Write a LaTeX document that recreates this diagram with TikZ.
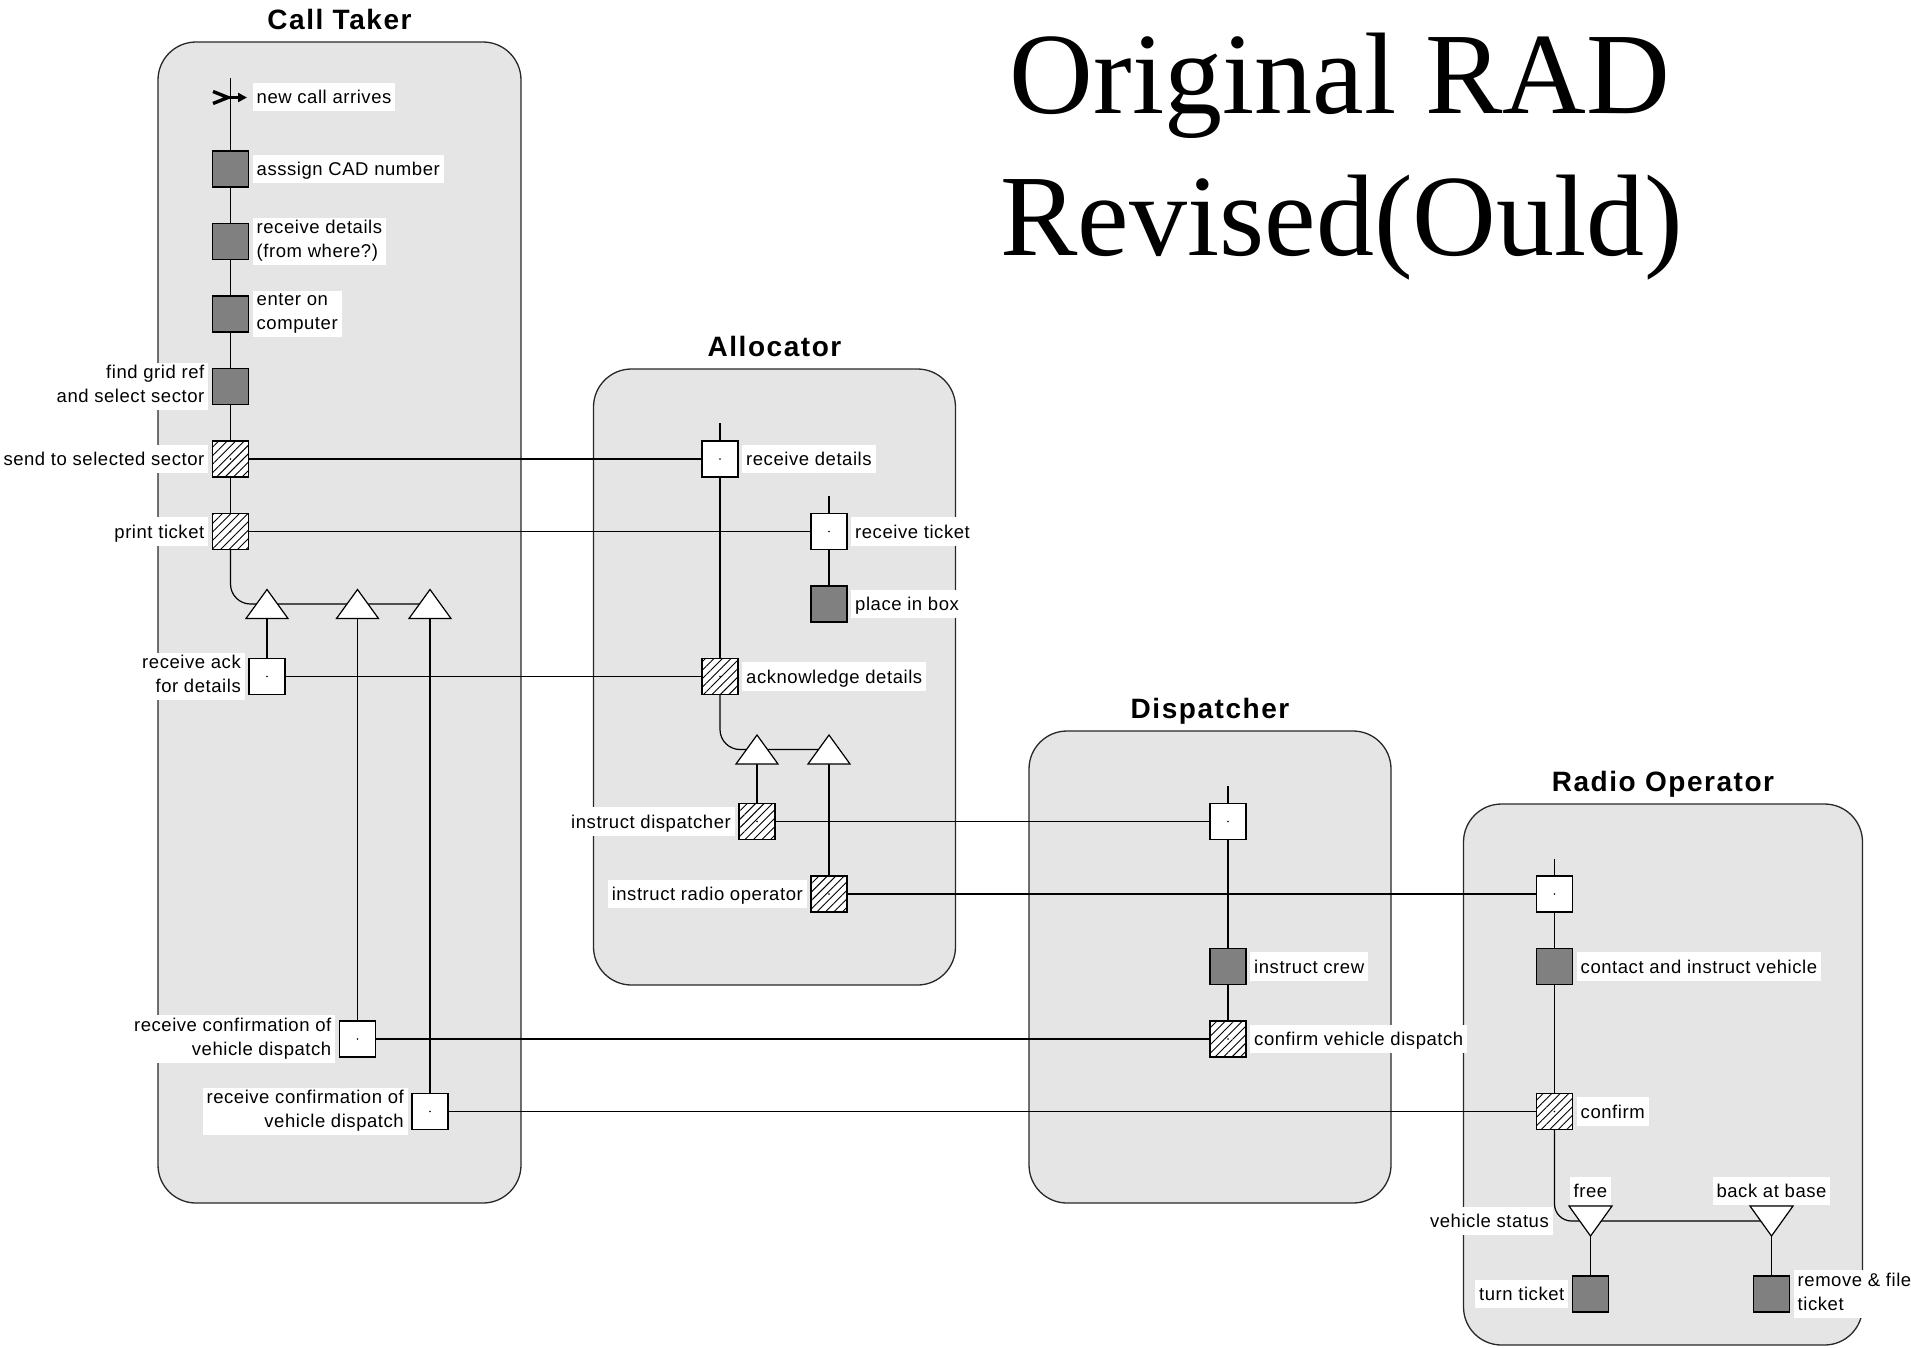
\documentclass[tikz,border=0pt]{standalone}
\usepackage{fontspec}
\usetikzlibrary{patterns.meta,arrows.meta,calc,positioning}
\newfontfamily\titlefont{Liberation Serif}
\newfontfamily\lanefont{Liberation Sans}[LetterSpace=5.5]
\newfontfamily\lblfont{Liberation Sans}[LetterSpace=3]
\definecolor{lanegray}{RGB}{229,229,229}
\definecolor{lanedraw}{RGB}{40,40,40}
\definecolor{boxgray}{RGB}{128,128,128}
\pgfdeclarelayer{lanes}
\pgfdeclarelayer{wires}
\pgfdeclarelayer{labels}
\pgfsetlayers{lanes,wires,main,labels}
\newcommand\lstrut{\rule[-5pt]{0pt}{23.5pt}}
\newcommand\uptri[1]{\filldraw[tri] ($(#1)+(-21,14.5)$) -- ($(#1)+(21,14.5)$) -- ($(#1)+(0,-14.5)$) -- cycle;}
\newcommand\downtri[1]{\filldraw[tri] ($(#1)+(-21.5,-15)$) -- ($(#1)+(21.5,-15)$) -- ($(#1)+(0,15)$) -- cycle;}
\begin{document}
\begin{tikzpicture}[x=1pt,y=-1pt,
  lane/.style={draw=lanedraw, fill=lanegray, line width=1.3, rounded corners=38},
  lanetitle/.style={font=\lanefont\bfseries\fontsize{28}{34}\selectfont, anchor=base, inner sep=0},
  act/.style={draw=black, line width=1.3, minimum size=36, inner sep=0, outer sep=0},
  darkbox/.style={act, fill=boxgray},
  cdot/.style={path picture={\fill[black] (path picture bounding box.center) circle (0.8);}},
  openbox/.style={act, fill=white, cdot},
  hatchbox/.style={act, preaction={fill=white}, pattern={Lines[angle=45,distance=6pt,line width=0.9pt]}, cdot},
  wire/.style={line width=1.2, draw=black},
  tri/.style={draw=black, fill=white, line width=1.2},
  lbl/.style={fill=white, inner xsep=4, inner ysep=2.5, font=\lblfont\fontsize{18.5}{24}\selectfont,
    execute at begin node=\lstrut, execute at end node=\lstrut},
  rl/.style={lbl, align=left},
  ll/.style={lbl, align=right}]
\useasboundingbox (0,0) rectangle (1911,1347);

% ---------- lanes ----------
\begin{pgfonlayer}{lanes}
\draw[lane] (158,42) rectangle (521,1203);
\draw[lane] (593.5,369) rectangle (955.5,985);
\draw[lane] (1029,731) rectangle (1391,1203);
\draw[lane] (1463.5,804) rectangle (1862.5,1345);
\end{pgfonlayer}

% ---------- titles ----------
\node[font=\titlefont\fontsize{116}{140}\selectfont, anchor=base, inner sep=0] (title1) at (1340,113) {Original RAD};
\node[font=\titlefont\fontsize{116}{140}\selectfont, anchor=base, inner sep=0] (title2) at (1342,255) {Revised(Ould)};
\node[lanetitle] (tCT) at (339.5,29) {Call Taker};
\node[lanetitle] (tAL) at (774.5,356) {Allocator};
\node[lanetitle] (tDP) at (1210,718) {Dispatcher};
\node[lanetitle] (tRO) at (1663,791) {Radio Operator};

% ---------- Call Taker ----------
\coordinate (ctTop) at (230.5,78);
\coordinate (nca) at (228,97.5);
\node[darkbox] (ct1) at (230.5,169) {};
\node[darkbox] (ct2) at (230.5,241.5) {};
\node[darkbox] (ct3) at (230.5,314) {};
\node[darkbox] (ct4) at (230.5,386.5) {};
\node[hatchbox] (ct5) at (230.5,459) {};
\node[hatchbox] (ct6) at (230.5,531.5) {};
\coordinate (ctT1) at (267,604);
\coordinate (ctT2) at (357.5,604);
\coordinate (ctT3) at (430,604);
\node[openbox] (ct7) at (267,676.5) {};
\node[openbox] (ct8) at (357.5,1039) {};
\node[openbox] (ct9) at (430,1111.5) {};

% ---------- Allocator ----------
\coordinate (alTop1) at (720,423);
\node[openbox] (al1) at (720,459) {};
\coordinate (alTop2) at (829,496);
\node[openbox] (al2) at (829,531.5) {};
\node[darkbox] (al3) at (829,604) {};
\node[hatchbox] (al4) at (720,676.5) {};
\coordinate (alT1) at (757,749.5);
\coordinate (alT2) at (829,749.5);
\node[hatchbox] (al5) at (757,821.5) {};
\node[hatchbox] (al6) at (829,894) {};

% ---------- Dispatcher ----------
\coordinate (dpTop) at (1228,786);
\node[openbox] (dp1) at (1228,821.5) {};
\node[darkbox] (dp2) at (1228,966.5) {};
\node[hatchbox] (dp3) at (1228,1039) {};

% ---------- Radio Operator ----------
\coordinate (roTop) at (1554.5,859);
\node[openbox] (ro1) at (1554.5,894) {};
\node[darkbox] (ro2) at (1554.5,966.5) {};
\node[hatchbox] (ro3) at (1554.5,1111.5) {};
\coordinate (roT1) at (1590.5,1221);
\coordinate (roT2) at (1771.5,1221);
\node[darkbox] (ro4) at (1590.5,1294) {};
\node[darkbox] (ro5) at (1771.5,1294) {};

% ---------- connectors ----------
\begin{pgfonlayer}{wires}
\draw[wire] (ctTop) -- (ct1);
\draw[wire] (ct1) -- (ct2);
\draw[wire] (ct2) -- (ct3);
\draw[wire] (ct3) -- (ct4);
\draw[wire] (ct4) -- (ct5);
\draw[wire] (ct5) -- (ct6);
\draw[wire, rounded corners=20] (ct6) |- (ctT3);
\draw[wire] (ctT1) -- (ct7);
\draw[wire] (ctT2) -- (ct8);
\draw[wire] (ctT3) -- (ct9);

\draw[wire] (alTop1) -- (al1);
\draw[wire] (al1) -- (al4);
\draw[wire, rounded corners=20] (al4) |- (alT2);
\draw[wire] (alTop2) -- (al2);
\draw[wire] (al2) -- (al3);
\draw[wire] (alT1) -- (al5);
\draw[wire] (alT2) -- (al6);

\draw[wire] (dpTop) -- (dp1);
\draw[wire] (dp1) -- (dp2);
\draw[wire] (dp2) -- (dp3);

\draw[wire] (roTop) -- (ro1);
\draw[wire] (ro1) -- (ro2);
\draw[wire] (ro2) -- (ro3);
\draw[wire, rounded corners=17] (ro3) |- (roT2);
\draw[wire] (roT1) -- (ro4);
\draw[wire] (roT2) -- (ro5);

\draw[wire] (ct5) -- (al1);
\draw[wire] (ct6) -- (al2);
\draw[wire] (al4) -- (ct7);
\draw[wire] (al5) -- (dp1);
\draw[wire] (al6) -- (ro1);
\draw[wire] (dp3) -- (ct8);
\draw[wire] (ro3) -- (ct9);
\end{pgfonlayer}

% ---------- triangles ----------
\uptri{ctT1}
\uptri{ctT2}
\uptri{ctT3}
\uptri{alT1}
\uptri{alT2}
\downtri{roT1}
\downtri{roT2}

% ---------- new call arrow ----------
\draw[line width=3.4, line join=miter] ($(nca)+(-15,-6)$) -- (nca) -- ($(nca)+(-15,6)$);
\draw[line width=2.8, -{Triangle[length=9pt,width=9pt]}] ($(nca)+(-2,0)$) -- ($(nca)+(19,0)$);

% ---------- labels ----------
\begin{pgfonlayer}{labels}
\node[rl, anchor=west] (l0) at (252.5,97) {new call arrives};
\node[rl, right=4pt of ct1] (l1) {asssign CAD number};
\node[rl, right=4pt of ct2] (l2) {receive details\\(from where?)};
\node[rl, right=4pt of ct3] (l3) {enter on\\computer};
\node[ll, left=4pt of ct4] (l4) {find grid ref\\and select sector};
\node[ll, left=4pt of ct5] (l5) {send to selected sector};
\node[ll, left=4pt of ct6] (l6) {print ticket};
\node[ll, left=4pt of ct7] (l7) {receive ack\\for details};
\node[ll, left=4pt of ct8] (l8) {receive confirmation of\\vehicle dispatch};
\node[ll, left=4pt of ct9] (l9) {receive confirmation of\\vehicle dispatch};

\node[rl, right=4pt of al1] (m1) {receive details};
\node[rl, right=4pt of al2] (m2) {receive ticket};
\node[rl, right=4pt of al3] (m3) {place in box};
\node[rl, right=4pt of al4] (m4) {acknowledge details};
\node[ll, left=4pt of al5] (m5) {instruct dispatcher};
\node[ll, left=4pt of al6] (m6) {instruct radio operator};

\node[rl, right=4pt of dp2] (d2) {instruct crew};
\node[rl, right=4pt of dp3] (d3) {confirm vehicle dispatch};

\node[rl, right=4pt of ro2] (r2) {contact and instruct vehicle};
\node[rl, right=4pt of ro3] (r3) {confirm};
\node[lbl, anchor=south] (rf) at ($(roT1)+(0,-15.5)$) {free};
\node[lbl, anchor=south] (rb) at ($(roT2)+(0,-15.5)$) {back at base};
\node[ll, anchor=east] (rv) at (1553,1221) {vehicle status};
\node[ll, left=4pt of ro4] (r4) {turn ticket};
\node[rl, right=4pt of ro5] (r5) {remove \& file\\ticket};
\end{pgfonlayer}
\end{tikzpicture}
\end{document}
